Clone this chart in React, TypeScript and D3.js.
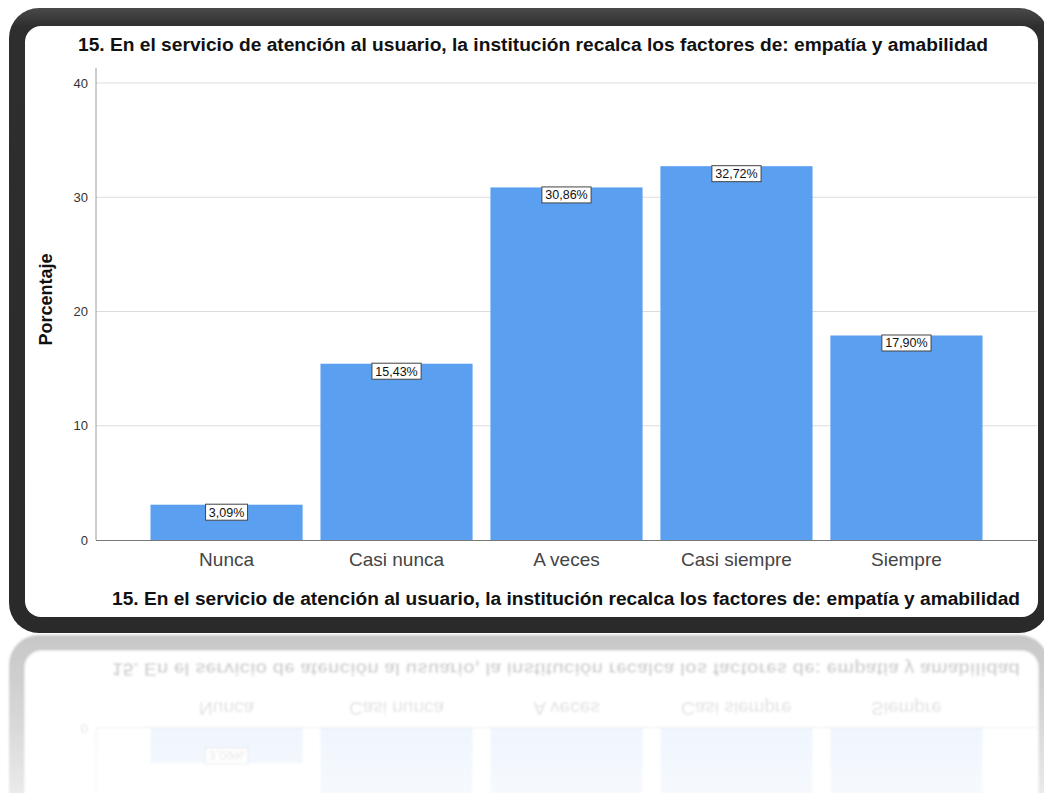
import React from "react";
import * as d3 from "d3";

const categories = ["Nunca", "Casi nunca", "A veces", "Casi siempre", "Siempre"];
const values = [3.09, 15.43, 30.86, 32.72, 17.9];
const valueLabels = ["3,09%", "15,43%", "30,86%", "32,72%", "17,90%"];
const yTicks = [0, 10, 20, 30, 40];
const title = "15. En el servicio de atención al usuario, la institución recalca los factores de: empatía y amabilidad";
const yTitle = "Porcentaje";

const W = 1044;
const H = 798;

export default function App() {
  const plotLeft = 96;
  const plotRight = 1037;
  const y = d3.scaleLinear().domain([0, 40]).range([540, 83]);
  const x = d3.scaleBand<string>().domain(categories).range([142, 991]).paddingInner(0.105).paddingOuter(0.05);
  const font = "'Liberation Sans', Arial, sans-serif";
  const mirrorY = 632;
  const reflBottom = 793;

  const renderChart = (reflect: boolean) => (
    <g>
      {/* frame */}
      <rect x={9} y={8} width={1040} height={625} rx={30} ry={30} fill={reflect ? "#2e2e2e" : "url(#frameGrad)"} />
      <rect x={25} y={26} width={1013} height={591} rx={16} ry={16} fill="#ffffff" />
      {/* title */}
      {!reflect && (
        <text x={533} y={51} textAnchor="middle" fontFamily={font} fontWeight="bold" fontSize={18} fill="#111" textLength={910} lengthAdjust="spacingAndGlyphs">{title}</text>
      )}
      {/* grid */}
      {!reflect && yTicks.filter(t => t > 0).map(t => (
        <line key={t} x1={plotLeft} x2={plotRight} y1={y(t)} y2={y(t)} stroke="#dcdcdc" strokeWidth={1} />
      ))}
      {/* bars */}
      {categories.map((c, i) => (
        <rect key={c} x={x(c)!} y={y(values[i])} width={x.bandwidth()} height={y(0) - y(values[i])} fill="#5b9ff0" fillOpacity={reflect ? 0.55 : 1} />
      ))}
      {/* axes */}
      <line x1={plotLeft} x2={plotLeft} y1={reflect ? 440 : 68} y2={540} stroke="#9a9a9a" strokeWidth={1} />
      <line x1={plotLeft} x2={plotRight} y1={540.5} y2={540.5} stroke="#777" strokeWidth={1} />
      {yTicks.filter(t => !reflect || t === 0).map(t => (
        <text key={t} x={plotLeft - 8} y={y(t) + 4.5} textAnchor="end" fontFamily={font} fontSize={13} fill="#333">{t}</text>
      ))}
      {/* value labels */}
      {categories.map((c, i) => {
        if (reflect && values[i] > 8) return null;
        const cx = x(c)! + x.bandwidth() / 2;
        const w = valueLabels[i].length * 7.2 + 6;
        const top = y(values[i]) - 0.5;
        return (
          <g key={c}>
            <rect x={cx - w / 2} y={top} width={w} height={16} fill="#fff" stroke="#444" strokeWidth={1} />
            <text x={cx} y={top + 12.5} textAnchor="middle" fontFamily={font} fontSize={12.5} fill="#111">{valueLabels[i]}</text>
          </g>
        );
      })}
      {/* category labels */}
      {categories.map(c => (
        <text key={c} x={x(c)! + x.bandwidth() / 2} y={566} textAnchor="middle" fontFamily={font} fontSize={19} fill="#444">{c}</text>
      ))}
      {/* x title */}
      <text x={566} y={605} textAnchor="middle" fontFamily={font} fontWeight="bold" fontSize={18} fill="#111" textLength={908} lengthAdjust="spacingAndGlyphs">{title}</text>
      {/* y title */}
      {!reflect && (
        <text transform={`translate(52, ${(y(0) + y(40)) / 2 - 12}) rotate(-90)`} textAnchor="middle" fontFamily={font} fontWeight="bold" fontSize={18} fill="#111">{yTitle}</text>
      )}
    </g>
  );

  return (
    <svg width={W} height={H} style={{ position: "absolute", left: 0, top: 0, display: "block" }}>
      <defs>
        <linearGradient id="frameGrad" x1="0" y1="0" x2="0" y2="1">
          <stop offset="0" stopColor="#4a4a4a" />
          <stop offset="0.03" stopColor="#2e2e2e" />
          <stop offset="1" stopColor="#2a2a2a" />
        </linearGradient>
        <linearGradient id="fadeGrad" x1="0" y1={mirrorY} x2="0" y2={reflBottom} gradientUnits="userSpaceOnUse">
          <stop offset="0" stopColor="#fff" stopOpacity={0.27} />
          <stop offset="0.5" stopColor="#fff" stopOpacity={0.2} />
          <stop offset="1" stopColor="#fff" stopOpacity={0.1} />
        </linearGradient>
        <mask id="reflMask" maskUnits="userSpaceOnUse" x={0} y={mirrorY} width={W} height={reflBottom - mirrorY}>
          <rect x={0} y={mirrorY} width={W} height={reflBottom - mirrorY} fill="url(#fadeGrad)" />
        </mask>
        <filter id="blur" x="-5%" y="-5%" width="110%" height="110%">
          <feGaussianBlur stdDeviation="1.2" />
        </filter>
      </defs>
      <rect x={0} y={0} width={W} height={H} fill="#fff" />
      <g mask="url(#reflMask)">
        <g transform={`translate(0, ${2 * mirrorY + 4}) scale(1, -1)`} filter="url(#blur)">
          {renderChart(true)}
        </g>
      </g>
      {renderChart(false)}
    </svg>
  );
}
